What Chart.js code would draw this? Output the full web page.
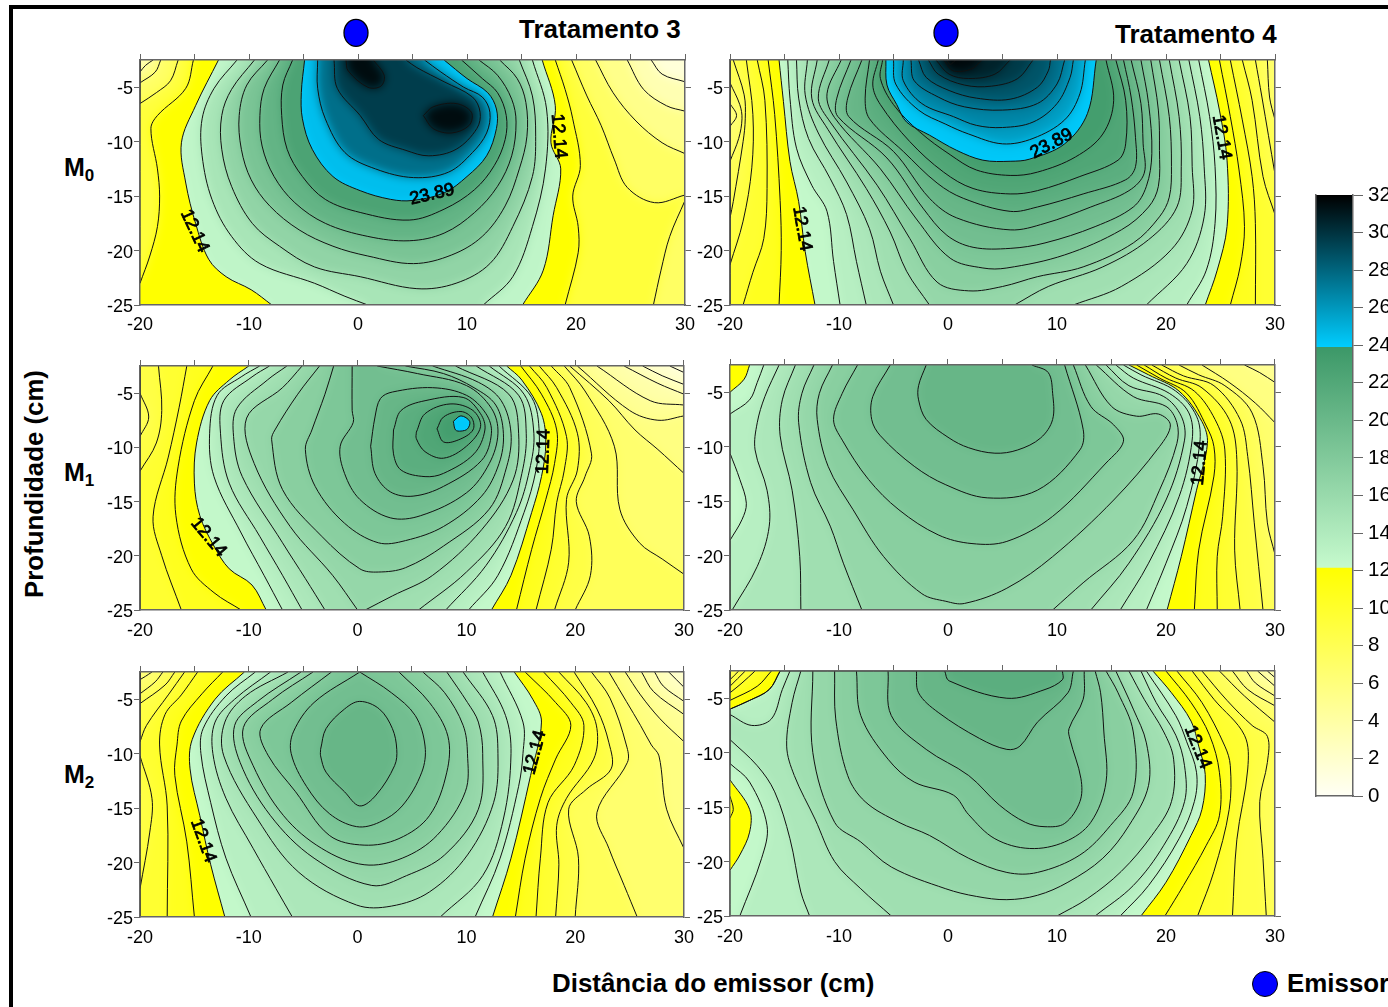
<!DOCTYPE html>
<html lang="pt">
<head>
<meta charset="utf-8">
<title>Tratamentos 3 e 4</title>
<script src="https://cdn.jsdelivr.net/npm/chart.js@4"></script>
<style>
html, body { margin: 0; padding: 0; background: #fff; overflow: hidden; width: 1388px; height: 1007px; }
body { position: relative; font-family: "Liberation Sans", Arial, sans-serif; color: #000; }
canvas { position: absolute; }
.txt { position: absolute; font-weight: bold; white-space: nowrap; line-height: 1; }
.txt sub { font-size: 0.68em; vertical-align: -0.28em; line-height: 0; }
#frame { position: absolute; left: 9px; top: 5px; right: -10px; bottom: -10px; border-top: 4px solid #000; border-left: 4px solid #000; }
#dot { position: absolute; left: 1252px; top: 971px; width: 26px; height: 26px; border-radius: 50%; background: #0000ff; border: 1.5px solid #000; box-sizing: border-box; }
</style>
</head>
<body>
<div id="frame"></div>
<div class="txt" style="left:519px;top:16px;font-size:26px">Tratamento 3</div>
<div class="txt" style="left:1115px;top:21px;font-size:26px">Tratamento 4</div>
<div class="txt" style="left:64px;top:155px;font-size:25px">M<sub>0</sub></div>
<div class="txt" style="left:64px;top:460px;font-size:25px">M<sub>1</sub></div>
<div class="txt" style="left:64px;top:762px;font-size:25px">M<sub>2</sub></div>
<div class="txt" style="left:35px;top:484px;font-size:25.8px;transform:translate(-50%,-50%) rotate(-90deg)">Profundidade (cm)</div>
<div class="txt" style="left:552px;top:971px;font-size:25.9px">Distância do emissor (cm)</div>
<div id="dot"></div>
<div class="txt" style="left:1287px;top:971px;font-size:25.9px">Emissor</div>

<script>
// Axis limits and ticks
const xLimits = [-20, 30];
const yLimits = [-25, -2.5];
const xStep = 10;
const xTopStep = 5;
const yStep = 5;
const scaleTicksStep = 2;
const scaleLimits = [0, 32];
const scaleBreaks = [0, 12.14, 23.89, 32];
const emitterX = [0];
const emitterY = [0];

// Contours: [level, [x, y, x, y, ...]], painted in this order
const t3m0 = [
  [10.18, [-15.1,-2.5,-15.8,-5.1,-18.4,-7.6,-19,-8.8,-18.4,-12.5,-18.2,-15,-18.4,-17.8,-19.1,-20.5,-20,-23,-20,-2.5]],
  [8.22, [-16.5,-2.5,-17.2,-4.4,-18.5,-5.5,-20,-6.5,-20,-2.5]],
  [6.26, [-18.1,-2.5,-18.6,-3.6,-20,-4.6,-20,-2.5]],
  [4.31, [-18.8,-2.5,-19.5,-3,-20,-3.6,-20,-2.5]],
  [10.18, [18.1,-2.5,19,-5.2,19.7,-7.9,20.4,-12.2,19.7,-15,20.2,-17.8,20.2,-20.2,19,-25,30,-25,30,-2.5]],
  [8.22, [19.6,-2.5,21,-5.8,22.3,-8.5,23.5,-11.6,24.7,-14.2,27.2,-15.6,30,-14.9,30,-2.5]],
  [8.22, [30,-15.4,28.6,-18.7,27.8,-21.8,27.1,-25,30,-25]],
  [6.26, [21.8,-2.5,23.4,-5.5,25.5,-8.1,27.9,-10.1,30,-11.1,30,-2.5]],
  [4.31, [24.7,-2.5,26.2,-5.2,28.3,-6.7,30,-7.2,30,-2.5]],
  [2.35, [26.9,-2.5,27.9,-3.8,30,-4.5,30,-2.5]],
  [12.14, [-12.8,-2.5,-14.9,-6.7,-16.2,-10.1,-15.8,-13.8,-14.9,-17.5,-13.7,-20.8,-12.1,-22.4,-9.8,-23.6,-7.9,-25,15.1,-25,17,-21.8,17.9,-16.8,18.6,-12.5,17.7,-10.1,18.1,-6.7,16.9,-2.5]],
  [14.10, [-11.1,-2.5,-13.2,-5.1,-14.3,-7.9,-14.3,-11.3,-13.4,-15.3,-11.6,-18.7,-9,-21.2,-4,-23,-1.2,-24.2,0.9,-25,11.5,-25,14.2,-22.4,16,-17.8,17.2,-12.5,17.3,-7,16,-2.5]],
  [16.06, [-9.5,-2.5,-11.6,-5.2,-12.5,-7.6,-12.5,-10.7,-11.6,-14.1,-9.7,-17.5,-7.2,-19.6,-4,-21.5,0.2,-22.4,5.4,-23.5,9,-23,12.1,-21.2,14.2,-17.8,16,-13.2,16.3,-9.5,16,-5.8,14.8,-2.5]],
  [18.02, [-8.3,-2.5,-10.2,-4.8,-10.9,-7.6,-10.7,-10.7,-9.8,-13.5,-8.1,-15.9,-5.4,-18.1,-2.3,-19.6,0.9,-20.5,5.1,-21.2,8.6,-20.4,11.4,-18.7,13.5,-15.9,14.8,-12.5,15.5,-9.5,15.4,-6.4,14.6,-4.2,13,-2.5]],
  [19.97, [-7.2,-2.5,-8.6,-5.1,-9,-7.6,-8.8,-10.4,-7.7,-13.2,-5.8,-15.6,-3,-17.5,0.9,-18.7,4.7,-19.1,7.9,-18.4,10.7,-16.5,12.8,-14.1,14.1,-11.3,14.5,-8.2,14.1,-6.1,12.8,-3.9,11.1,-2.5]],
  [21.93, [-6,-2.5,-6.9,-4.8,-7,-7.6,-6.5,-10.7,-5.1,-13.2,-3,-15.3,0.2,-16.5,4.7,-17.2,7.9,-16.2,10.7,-14.4,12.5,-12.2,13.5,-9.8,13.6,-7.6,12.8,-5.5,11.4,-4.2,9.5,-2.5]],
  [23.89, [-4.9,-2.5,-5.2,-5.5,-5.1,-7.9,-4.2,-10.7,-2.3,-13.2,0.2,-14.5,3,-15.3,5,-15.4,7.9,-14.7,10,-13.2,11.8,-11.3,12.7,-8.8,12.7,-7,11.9,-5.5,10,-4.2,7.9,-2.5]],
  [25.85, [-3.7,-2.5,-3.7,-5.1,-3,-7.9,-1.2,-11,1.6,-12.5,5.1,-13.3,8.3,-12.8,10.5,-11,11.8,-9.2,12.1,-7.3,11.4,-5.9,9.7,-5,7.6,-3.6,6.1,-2.5]],
  [27.81, [-2.2,-2.5,-1.9,-5.1,0.2,-7.6,1.9,-9.8,4.4,-10.8,6.5,-11.3,9,-10.7,10.9,-8.8,11.2,-7.3,10.5,-5.9,7.9,-4.5,5.4,-3.2,4.4,-2.5]],
  [29.77, [-1.1,-2.5,-0.9,-3.5,0.9,-5,2.1,-4.9,2.4,-3.9,1.4,-2.5]],
  [29.77, [6,-7.6,6.9,-6.8,9,-6.5,10.4,-7.3,10.2,-8.5,8.6,-9.2,6.9,-8.8]]
];

const t4m0 = [
  [11.16, [-16.5,-2.5,-15.9,-7.5,-15.4,-15.4,-15.3,-20,-15.5,-25,-20,-25,-20,-2.5]],
  [10.18, [-17.5,-2.5,-16.8,-6.2,-16.6,-14.3,-16.9,-18.9,-17.9,-22,-18.8,-25,-20,-25,-20,-2.5]],
  [9.2, [-18.5,-2.5,-17.9,-7.5,-18,-12.4,-18.8,-17.3,-20,-21.3,-20,-2.5]],
  [8.22, [-19.7,-2.5,-18.7,-5.7,-18.6,-7.9,-18.8,-10,-19.7,-15.5,-20,-17,-20,-2.5]],
  [7.24, [-20,-4.6,-19.1,-6.6,-18.9,-7.9,-19.2,-9.7,-20,-11.8]],
  [6.26, [-20,-6.5,-19.4,-7.6,-20,-8.6]],
  [11.16, [24.9,-2.5,25.9,-7.7,26.7,-12.6,27.2,-17.8,26.8,-21.5,25.9,-25,30,-25,30,-2.5]],
  [10.18, [25.9,-2.5,27,-8,27.9,-13.2,28.2,-17.5,28.2,-25,30,-25,30,-2.5]],
  [9.2, [27,-2.5,27.9,-6.2,28.9,-13.2,30,-16.7,30,-2.5]],
  [8.22, [28.2,-2.5,28.8,-5.9,30,-13,30,-2.5]],
  [7.24, [29.3,-2.5,29.5,-5.9,30,-8,30,-2.5]],
  [12.14, [-15.5,-2.5,-15.1,-6.3,-14.5,-11.8,-13.7,-15.5,-13.1,-20.1,-12.2,-25,23.6,-25,24.7,-21.8,25.6,-17.8,25.6,-11.7,24.9,-7.1,23.9,-2.5]],
  [13.12, [-14.7,-2.5,-14.5,-6,-13.9,-10.6,-12.5,-14,-11.1,-16.4,-10.5,-21,-9.9,-25,21.9,-25,23.7,-21.8,24.5,-17.5,24.5,-12.3,24,-7.7,23,-2.5]],
  [14.10, [-13.9,-2.5,-13.7,-6,-12.8,-9.7,-10.8,-13.4,-9.3,-16.7,-8.4,-21,-7.5,-25,18.2,-25,21.9,-21.2,23.5,-16.9,23.5,-12.3,23.1,-7.7,22.1,-2.5]],
  [15.08, [-12.9,-2.5,-13.1,-5.7,-11.9,-9.2,-9.3,-13.7,-7.2,-18,-6.2,-21.9,-5,-25,11.5,-25,15.9,-23.3,20.5,-19.9,22.4,-16.3,22.4,-12.3,22.2,-7.7,21.2,-2.5]],
  [16.06, [-12,-2.5,-12.5,-6,-11,-8.9,-7.5,-14.3,-5.3,-18.3,-3.8,-21.9,-1.7,-25,6.1,-25,9.2,-23.3,14.2,-21.5,18.4,-19,21,-16,21.4,-12.3,21.2,-7.7,20.3,-2.5]],
  [17.04, [-10.9,-2.5,-11.9,-6,-10.8,-8.2,-6.5,-14,-3.5,-18.9,-1,-22.9,1.9,-23.7,5,-23.3,8.2,-22.4,12.4,-21.5,17,-19.3,19.4,-16.9,20.3,-15.1,20.5,-12.3,20.3,-7.7,19.4,-2.5]],
  [18.02, [-9.8,-2.5,-11.1,-5.6,-10.4,-7.8,-6.2,-12.5,-2.9,-17.1,0.2,-20.7,3.2,-21.6,5.4,-21.6,10.7,-20.4,15.9,-18.1,18.4,-16,19.3,-14.1,19.4,-10.8,19.3,-7.1,18.6,-2.5]],
  [19, [-8.9,-2.5,-10.2,-6,-10.1,-7.7,-5.6,-11.5,-2.3,-16.1,-0.1,-18.6,2.3,-19.7,5.7,-19.8,8.9,-19.3,13.5,-17.8,17,-16,18.2,-14.1,18.7,-11.1,18.4,-6.5,17.7,-2.5]],
  [19.97, [-7.9,-2.5,-9.2,-6,-9.1,-7.7,-5,-10.9,-1.7,-15.2,0.8,-17,5.7,-18.1,8.9,-17.5,13.1,-16,16.6,-14.5,18,-12.9,17.9,-10.2,17.7,-6.5,16.8,-2.5]],
  [20.95, [-7.2,-2.5,-7.6,-6,-7.2,-7.9,-4.1,-10.9,-1,-13.8,1.4,-15.2,5.7,-16.4,8.2,-16,12.4,-14.8,16.3,-13.5,17.2,-12.3,17.2,-9.6,16.8,-5.9,16.1,-2.5]],
  [21.93, [-6.4,-2.5,-6.9,-4.8,-6.2,-6.6,-3.5,-10,-0.4,-12.8,2.3,-14.3,5.7,-14.8,8.2,-14.5,12.1,-13.2,15.6,-11.7,16.3,-10.2,16.3,-6.2,15.4,-2.5]],
  [22.91, [-6,-2.5,-6.2,-4.2,-5,-6.6,-2.6,-9.1,0.2,-11.2,2.6,-12.6,5.7,-13.1,8.2,-12.8,11.7,-11.4,14.2,-9.3,15.2,-6.2,14.5,-2.5]],
  [23.89, [-5.7,-2.5,-5.6,-4.8,-4.7,-6.6,-3.8,-8.2,-1.7,-9.4,0.8,-10.8,3.2,-11.7,5.7,-11.8,7.5,-11.6,10.7,-10.2,12.8,-7.4,13.6,-2.5]],
  [24.87, [-5,-2.5,-4.8,-4.7,-2.7,-7.1,-0.2,-8.4,1.9,-9.3,5,-10.2,7.8,-9.7,10.7,-8,12.1,-5.6,12.6,-2.5]],
  [25.85, [-4.1,-2.5,-4.1,-4.4,-2.4,-6.5,0.5,-7.7,2.6,-8.5,5,-8.7,7.8,-8.2,10,-6.5,11.2,-4.1,11.5,-2.5]],
  [26.83, [-3.4,-2.5,-3.1,-4.4,-0.9,-5.9,1.5,-6.8,5,-7.1,8.2,-6.5,10,-4.7,10.7,-2.5]],
  [27.81, [-2.7,-2.5,-2,-4.1,0.1,-5.3,2.6,-6,5.7,-6.1,8.2,-5,9.2,-3.5,9.4,-2.5]],
  [28.79, [-1.8,-2.5,-0.9,-3.8,1.5,-4.8,4,-4.9,6.4,-4.2,7.8,-2.5]],
  [29.77, [-1.1,-2.5,0.1,-3.8,1.9,-4.2,4.3,-3.8,5.7,-2.5]],
  [30.75, [-0.4,-2.5,0.5,-3.5,2.2,-3.3,3.1,-2.5]],
  [31.73, [-0.1,-2.5,0.2,-2.9,0.7,-2.5]]
];

const t3m1 = [
  [11.16, [-13.3,-2.5,-15,-5.7,-16.5,-11.8,-16.7,-16.3,-15.3,-21.2,-13.2,-23.4,-10.7,-25,-20,-25,-20,-2.5]],
  [10.18, [-15.7,-2.5,-16.4,-6.3,-17.4,-10.9,-18.8,-16.4,-18,-20,-16.2,-25,-20,-25,-20,-2.5]],
  [9.2, [-18.3,-2.5,-18,-6.6,-18.5,-9.6,-20,-12.2,-20,-2.5]],
  [8.22, [-20,-5,-19.2,-7.2,-20,-9]],
  [11.16, [15,-2.5,16.9,-5.1,18.3,-8.4,18.1,-11.5,17.3,-14.8,16,-19.4,14.6,-25,30,-25,30,-2.5]],
  [10.18, [15.8,-2.5,17.4,-4.5,19.2,-9,19,-12.1,18.3,-15.1,17.8,-19.4,16.4,-25,30,-25,30,-2.5]],
  [9.2, [16.7,-2.5,18.3,-4.5,20.2,-8.7,20.2,-12.1,19.2,-14.8,19.4,-20.6,18.1,-25,30,-25,30,-2.5]],
  [8.22, [17.8,-2.5,19.5,-4.5,21.5,-10.6,20.9,-12.7,20.1,-15,21.3,-18.2,21.4,-21.8,20,-25,30,-25,30,-2.5]],
  [7.24, [19,-2.5,20.9,-4.8,23.6,-9.9,24.1,-15.7,25.9,-18.8,28,-20.3,30,-21.7,30,-2.5]],
  [6.26, [19.5,-2.5,23.1,-5.7,25.5,-8.4,27.6,-10.2,30,-12.4,30,-2.5]],
  [5.28, [20.2,-2.5,25,-6.6,27.6,-7.5,30,-7.1,30,-2.5]],
  [4.31, [22,-2.5,26.9,-5.7,30,-6.1,30,-2.5]],
  [3.33, [24.5,-2.5,27.6,-4.1,30,-5.1,30,-2.5]],
  [2.35, [26.2,-2.5,28,-3.4,30,-4.2,30,-2.5]],
  [1.37, [28.7,-2.5,30,-3.1,30,-2.5]],
  [12.14, [-10,-2.5,-11.8,-3.8,-13.6,-5.7,-14.8,-9.6,-15,-13.3,-14.5,-16.3,-13.2,-19.1,-11.8,-21.2,-9.7,-22.7,-8.4,-25,12.3,-25,14.1,-21.8,16,-16,16.9,-12.7,17.3,-9.6,16.9,-6.9,15.1,-3.8,13.7,-2.5]],
  [13.12, [-9,-2.5,-10.7,-3.5,-12.9,-5.2,-13.6,-8.7,-13.2,-12.7,-10.7,-17.9,-8.6,-21.8,-6.9,-25,10.2,-25,12.9,-21.8,15.3,-16,16.4,-12.1,16.7,-8.7,16,-5.4,13,-2.5]],
  [14.10, [-8.1,-2.5,-9.7,-3.5,-12.3,-5.7,-12.6,-8.7,-11.8,-13.3,-9,-18.2,-6.9,-21.8,-5.1,-25,8.1,-25,11.8,-20.9,14.6,-16,15.8,-12.1,16.2,-8.7,15.3,-5.1,12.1,-2.5]],
  [15.08, [-6.5,-2.5,-8.3,-3.8,-11.1,-6.4,-11.4,-9,-10.6,-12.7,-6.9,-18.8,-4.8,-22.1,-3,-25,5.6,-25,10,-21.5,13.6,-17.3,15.1,-12.4,15.5,-8.7,14.8,-5.2,10.9,-2.5]],
  [16.06, [-5.1,-2.5,-6.9,-4.5,-10.2,-7.3,-9.5,-11.5,-6.2,-17.3,-2.3,-21.8,0,-25,0.7,-25,3.2,-23.7,6.9,-21.8,11.4,-17.6,14.3,-13,14.8,-8.7,13.9,-5.1,9,-2.5]],
  [17.04, [-3.5,-2.5,-5.5,-5.1,-7.6,-8.4,-7.9,-9.3,-6.9,-13.9,-3.3,-18.2,0.2,-21.2,1.9,-21.5,4.4,-21.1,7.9,-19.1,12.1,-15.7,13.7,-11.8,14.1,-8.7,13.2,-5.7,11.1,-4,6.9,-2.5]],
  [18.02, [-2.2,-2.5,-3,-5.1,-4.2,-8.4,-4.8,-10.2,-3.9,-13.6,-1.2,-17,1.9,-18.8,4.4,-18.6,7.9,-17.3,11.4,-14.5,13,-11.5,13.4,-8.7,12.7,-6.1,10.7,-4.5,7.9,-3.2,4.4,-2.5]],
  [19, [-0.5,-2.5,-0.5,-6.6,-0.4,-7.7,-1.6,-9.9,-1.2,-12.4,0.2,-14.8,3,-16.5,5.8,-16.3,10,-14.2,12.1,-11.5,12.9,-8.7,12.3,-6.4,10,-4.3,5.5,-3.2,1.8,-2.5]],
  [19.97, [1.2,-9.9,1.6,-7.2,2.1,-5.5,3.2,-4.9,6.9,-4.5,10,-5.2,11.8,-6.9,12.3,-8.7,11.4,-11.2,7.9,-13.6,5.1,-14.5,3,-14.1,1.6,-12.4]],
  [20.95, [3.3,-8.4,4,-6.6,6.2,-5.7,9.7,-5.4,11.3,-6.9,11.7,-8.4,10.7,-10.6,7.9,-12.4,6.2,-12.7,4,-12.1,3.3,-10.6]],
  [21.93, [5.4,-8.6,6.2,-6.9,8.5,-6,10.6,-6.6,11.3,-8.1,10,-9.9,7.9,-11,6.2,-10.4,5.4,-9.2]],
  [22.91, [7.3,-8.3,7.9,-7.2,9.5,-6.7,10.5,-7.3,10.6,-8.4,9.3,-9.3,7.9,-9.5]],
  [23.89, [8.8,-7.6,9.5,-7.1,10.3,-7.6,10.1,-8.3,9.5,-8.5,9,-8.4]]
];

const t4m1 = [
  [11.16, [17.3,-2.5,19.4,-3.7,21.9,-5.1,23.7,-8.1,24.4,-10,24.4,-12.7,23,-19.5,22.6,-25,30,-25,30,-2.5]],
  [10.18, [18,-2.5,20,-3.7,22.6,-4.9,24.5,-7.5,25.4,-10.3,25.2,-16.4,24.7,-20.1,24.7,-25,30,-25,30,-2.5]],
  [9.2, [18.7,-2.5,20.9,-3.7,23.3,-4.6,25.8,-7.5,26.5,-11.2,26.3,-19.5,26.8,-25,30,-25,30,-2.5]],
  [8.22, [19.6,-2.5,21.6,-3.5,24.4,-4.4,26.8,-7.5,27.5,-10.9,28.1,-17,28.9,-25,30,-25,30,-2.5]],
  [7.24, [21.2,-2.5,23,-3.4,25.4,-4.4,27.9,-6.9,28.9,-11.8,29.3,-17,30,-19.9,30,-2.5]],
  [6.26, [23.3,-2.5,25.8,-4.1,28.2,-6,30,-7.8,30,-2.5]],
  [5.28, [27.2,-2.5,28.6,-3.2,30,-4.1,30,-2.5]],
  [12.14, [-18.2,-2.5,-18.7,-3.8,-20,-5,-20,-25,20.1,-25,21.4,-20.1,22.8,-14,23.8,-9.7,23.3,-7.7,21.2,-4.9,18.4,-3.4,16.6,-2.5]],
  [13.12, [-16.9,-2.5,-17.5,-4.1,-18.2,-5.7,-20,-7,-20,-10.6,-19.1,-13,-18.5,-15.2,-18.9,-16.7,-20,-18.6,-20,-25,18.2,-25,20,-20.7,21.9,-15.5,23.1,-9.7,22.8,-7.2,20.9,-4.9,17.7,-3.4,16.1,-2.5]],
  [14.10, [-15.5,-2.5,-16.8,-5.4,-17.5,-7.8,-17.7,-10.3,-16.6,-14,-16.4,-17.3,-17.5,-21,-19.8,-25,15.8,-25,18.4,-20.7,21.2,-14.6,22.4,-9.4,22.1,-6.9,20.3,-5.1,17,-3.7,15.4,-2.5]],
  [15.08, [-14,-2.5,-15.2,-5.7,-15.4,-9,-14.3,-14,-13.6,-20.1,-13.5,-25,13.1,-25,16.6,-20.7,20,-14.9,21.7,-9.4,21.4,-7.2,19.8,-5.4,16.6,-4.4,14.5,-2.5]],
  [16.06, [-12.3,-2.5,-13.4,-5.1,-13.7,-7.8,-12.6,-13.3,-10.8,-17.3,-9.6,-20.7,-7.9,-25,9.6,-25,12.4,-22.5,17,-18.6,19.4,-14,21,-9.7,21,-7.8,20,-6.3,17,-5.4,13.6,-2.5]],
  [17.04, [-10.6,-2.5,-11.8,-5.1,-12,-7.5,-11,-11.8,-8.7,-15.8,-5.9,-20.1,-2.4,-23.5,-0.2,-24.2,1.5,-24.4,5.4,-23,9.6,-20.1,15.2,-14.9,19.4,-10,20.4,-8,19.3,-7,17.3,-7.2,15,-6.3,12.6,-2.5]],
  [18.02, [-8.3,-2.5,-9.7,-5.1,-10.5,-7.5,-9.7,-9.4,-7.3,-13,-4.5,-15.8,-0.9,-18.1,2.2,-18.9,5.4,-18.7,9.6,-16.4,14.5,-11.5,16.1,-9.5,15.2,-8,13.1,-6.3,11.5,-2.5]],
  [19, [-5.3,-2.5,-6.9,-5.4,-7,-7.5,-6.2,-9,-3.1,-11.8,-0.2,-13.5,3.6,-14.7,8.2,-14,12.1,-10.3,12.4,-8.4,10.7,-2.5]],
  [19.97, [-2,-2.5,-2.7,-4.4,-2.7,-5.7,-2,-7.5,0.1,-9.2,1.9,-10.1,4.3,-10.6,6.4,-10.3,8.5,-9.2,9.6,-7.5,9.6,-5.1,9.2,-3.2,7.7,-2.5]]
];

const t3m2 = [
  [11.16, [-12.4,-2.5,-14.3,-4.5,-16.2,-7,-16.6,-9.2,-16.8,-12,-15.7,-18.1,-15,-25,-20,-25,-20,-2.5]],
  [10.18, [-14.7,-2.5,-16.2,-4.6,-17.7,-6.4,-18.2,-9.2,-17.5,-14.8,-17.5,-25,-20,-25,-20,-2.5]],
  [9.2, [-15.9,-2.5,-17.4,-4.6,-19.4,-7.4,-20,-8.9,-20,-2.5]],
  [9.2, [-20,-10.2,-18.9,-14.1,-19.1,-17.2,-20,-22.4]],
  [8.22, [-16.8,-2.5,-17.7,-3.7,-20,-5.4,-20,-2.5]],
  [7.24, [-17.9,-2.5,-18.6,-3.4,-20,-4.5,-20,-2.5]],
  [6.26, [-18.9,-2.5,-19.5,-2.9,-20,-3.2,-20,-2.5]],
  [11.16, [15.4,-2.5,18.2,-5.3,19.6,-7.4,18.2,-10.5,16.8,-14.1,15.4,-19.6,14.5,-25,30,-25,30,-2.5]],
  [10.18, [17.1,-2.5,19.6,-5.3,20.8,-7.4,19.9,-11.1,17.5,-14.5,16.8,-19.6,16.4,-25,30,-25,30,-2.5]],
  [9.2, [18.5,-2.5,21,-5.3,22,-7.7,21.7,-10.5,19.2,-14.1,18.3,-16.6,18.5,-20.2,18.2,-25,30,-25,30,-2.5]],
  [8.22, [19.9,-2.5,22,-5.9,23.1,-9,23.3,-11.4,21,-13.3,19.4,-15.1,20.3,-19.6,20,-25,30,-25,30,-2.5]],
  [7.24, [21.5,-2.5,23.2,-4.9,24.7,-9.2,24.8,-10.8,22,-15.4,23.1,-18.7,24.5,-22.1,25.7,-25,30,-25,30,-2.5]],
  [6.26, [23.1,-2.5,24.7,-5.2,26,-7.4,27,-9.2,27.7,-10.2,28.4,-15.1,30,-18.7,30,-2.5]],
  [5.28, [24.6,-2.5,26,-4.6,27.8,-6.8,30,-8.9,30,-2.5]],
  [4.31, [26.1,-2.5,27.2,-4.3,30,-6.4,30,-2.5]],
  [3.33, [27.3,-2.5,28.1,-3.8,30,-5.2,30,-2.5]],
  [2.35, [28.6,-2.5,30,-3.9,30,-2.5]],
  [12.14, [-10.4,-2.5,-13.1,-5,-15.2,-8.7,-15.4,-11.4,-14.5,-15.7,-13.5,-20.2,-12.2,-25,12.4,-25,14.1,-19.6,15.9,-12,16.9,-7.1,16.1,-5,14.4,-2.5]],
  [13.12, [-9.4,-2.5,-12.1,-4.7,-14.2,-7.7,-14.4,-10,-13.5,-14.5,-12.1,-19.6,-9.8,-25,10.8,-25,13.1,-19.6,14.8,-13,15.2,-10,15.2,-7.1,13.1,-2.5]],
  [14.10, [-8,-2.5,-11.3,-5,-13.1,-7.1,-13.3,-10,-12.1,-14.1,-9.6,-18.7,-7.5,-22.4,-6,-25,7.6,-25,11.5,-21.2,13.4,-16,14.1,-10,13.6,-6.5,11.5,-2.5]],
  [15.08, [-6.4,-2.5,-10.3,-4.7,-12.2,-7.1,-12.3,-10.2,-9.2,-16,-5.4,-20.9,-0.1,-23.9,3.1,-24,6.6,-22.7,10.1,-19.3,12.5,-14.5,12.9,-10,12.4,-6.5,9.7,-2.5]],
  [16.06, [-5.2,-2.5,-9.2,-5.2,-11.3,-7.4,-10.8,-10.8,-8,-15.7,-4,-19.6,1.3,-22.1,4.5,-21.2,8,-19.3,11.1,-15.1,11.5,-10,11.1,-7.1,10.1,-5.3,8.2,-2.5]],
  [17.04, [-4.1,-2.5,-7.8,-5,-10.5,-7.6,-9.6,-11.1,-6.8,-15.7,-3.3,-18.7,0.6,-20.2,4.1,-19.6,7.3,-17.5,9.9,-13.5,10.1,-10,9.7,-7.4,8,-4.4,6,-2.5]],
  [18.02, [-2.4,-2.5,-6.1,-5.3,-8.9,-7.7,-8.2,-10.2,-5.7,-13.5,-2.6,-17.5,0.6,-18.4,3.8,-17.8,6.6,-15.7,8.2,-11.7,8.3,-8.4,6.6,-5.3,3.8,-2.5]],
  [19, [0.2,-2.5,-4,-5.3,-5.9,-8,-6.1,-10,-4.7,-13,-2.6,-15.5,-0.1,-16.7,2,-16.3,4.1,-14.8,5.9,-11.7,6.2,-9.3,5.3,-6.5,3.1,-4.4,0.2,-2.5]],
  [19.97, [-3.4,-9.6,-2.9,-7.7,-1.2,-5.9,0.2,-5.2,2,-5.9,3.2,-7.7,3.6,-9.6,3.4,-11.1,1.7,-13.8,0.2,-14.8,-1.2,-13.5,-2.9,-11.7,-3.4,-10.2]]
];

const t4m2 = [
  [11.16, [-16.2,-2.5,-17.5,-3.9,-20,-5.2,-20,-2.5]],
  [10.18, [-17.7,-2.5,-18.9,-3.6,-20,-4.5,-20,-2.5]],
  [9.2, [-18.6,-2.5,-20,-3.9,-20,-2.5]],
  [8.22, [-19.2,-2.5,-20,-3.3,-20,-2.5]],
  [11.16, [20,-2.5,22.3,-5.4,24,-8.4,24.9,-11.8,24.9,-15.8,23.7,-18.5,21.6,-22.2,19.9,-25,30,-25,30,-2.5]],
  [10.18, [21,-2.5,23.3,-5.4,25.4,-9.4,25.9,-11.2,25.8,-15.2,24.4,-20.9,22.9,-25,30,-25,30,-2.5]],
  [9.2, [22.4,-2.5,24.4,-5.1,27.2,-8.4,27.5,-11.5,26.5,-18,26.1,-25,30,-25,30,-2.5]],
  [8.22, [23.3,-2.5,25.6,-5.2,27.9,-7.5,29.3,-8.5,29.3,-10.9,28.6,-14.5,28.9,-19.7,29.2,-25,30,-25,30,-2.5]],
  [7.24, [24.9,-2.5,27.2,-4.8,30,-7.2,30,-2.5]],
  [6.26, [26.1,-2.5,27.5,-4.2,30,-5.7,30,-2.5]],
  [5.28, [27.4,-2.5,28.2,-3.6,30,-4.8,30,-2.5]],
  [4.31, [28.4,-2.5,30,-3.9,30,-2.5]],
  [3.33, [29.3,-2.5,30,-3.1,30,-2.5]],
  [11.16, [-20,-14,-19.7,-15.2,-20,-16]],
  [12.14, [-15.4,-2.5,-16.4,-4.2,-18.2,-5.2,-20,-6,-20,-12.5,-18.2,-15.2,-18.2,-17.3,-19.1,-19.4,-20,-20.8,-20,-25,17.7,-25,20,-21.9,22.3,-17.6,23.3,-15.2,23.6,-12,23,-9.4,22.3,-7.1,20.5,-4.5,18.8,-2.5]],
  [13.12, [-20,-6,-20,-11,-18.2,-12.7,-16.6,-16.7,-17.1,-19.7,-19.1,-25,15.8,-25,18.4,-22.2,21.2,-17.9,22.6,-14.5,22.8,-11.8,21.9,-9,20.9,-6.6,18.2,-2.5,-15.4,-2.5,-16.4,-4.2,-18.2,-5.2,-20,-6]],
  [14.10, [-14.5,-2.5,-15.2,-4.2,-16.2,-6.9,-18,-7.5,-20,-6.5,-20,-8.8,-17.5,-11.2,-15.9,-13.6,-14.5,-17.9,-13.5,-22.8,-12.7,-25,13.5,-25,17,-22.2,19.8,-18.5,21.7,-14.5,21.7,-11.2,20.9,-8.4,19.1,-5.4,17.7,-2.5]],
  [15.08, [-13.5,-2.5,-14.3,-5.4,-14.8,-9.4,-14.1,-12.1,-12.2,-16.1,-10.4,-20,-8,-22.5,-5.2,-25,10,-25,12.8,-23.4,15.9,-20.9,18.7,-17.6,20.5,-14.5,20.7,-10.6,19.8,-8.1,18,-5.1,16.6,-2.5]],
  [16.06, [-12.4,-2.5,-12.4,-10,-10.4,-16.4,-8,-18.2,-5.2,-20.5,-0.2,-22.5,2.6,-23.2,5.4,-23.5,8.2,-23.1,11,-21.9,14.2,-19.7,16.6,-16.7,18.4,-13,18.2,-9.1,17,-6,15.4,-2.5]],
  [17.04, [-10.4,-2.5,-10.3,-6.9,-9.2,-12.1,-7.6,-14.5,-4.5,-16.4,-1.7,-17.6,1.9,-19.7,5.4,-21,8.2,-21,12.1,-19.4,14.9,-16.7,17,-13.6,17,-8.1,15.6,-4.5,14.5,-2.5]],
  [18.02, [-8.4,-2.5,-8,-6.6,-5.5,-10.6,-3.1,-12.7,0.5,-13.9,1.9,-15.7,4.3,-17.9,7.5,-18.8,10.7,-18.2,13.1,-16.4,14.5,-12.7,14.3,-8.1,14,-4.5,13.5,-2.5]],
  [19, [-5.5,-2.5,-5.2,-6.6,-2,-9.7,1.9,-12.1,4.7,-14.8,7.1,-16.4,8.9,-16.8,10.7,-16.5,12.1,-14.5,12.2,-12.4,11.2,-8.8,11.1,-7.8,12.4,-5.1,12.5,-2.5]],
  [19.97, [-2.9,-2.5,-2.7,-4.5,-0.9,-6.3,2.9,-8.7,5.4,-9.7,6.6,-9.4,8.2,-7.2,11,-4.5,11.5,-2.5]],
  [20.95, [-0.3,-2.5,0.1,-3.4,5.4,-5,8.9,-4.2,10.5,-3.3,10.5,-2.5]]
];

// Line labels: [text, x, y, rotation in degrees]
const t3m0Labels = [['12.14',-15,-18.2,65],['12.14',18.4,-9.5,85],['23.89',6.8,-14.85,-13]];
const t4m0Labels = [['12.14',-13.4,-18,80],['12.14',25.1,-9.6,80],['23.89',9.5,-10.2,-28]];
const t3m1Labels = [['12.14',-13.7,-18.3,50],['12.14',17.1,-10.4,-88]];
const t4m1Labels = [['12.14',23.1,-11.5,-85]];
const t3m2Labels = [['12.14',-14.2,-18,70],['12.14',16.3,-9.9,-75]];
const t4m2Labels = [['12.14',22.9,-9.5,68]];

// Colour ramps: value breaks with rgb at both ends of each piece
const ramps = [
  [0, 12.14, [255,255,245], [255,255,0]],
  [12.14, 23.89, [198,250,205], [60,152,104]],
  [23.89, 32, [0,205,255], [0,0,0]]
];

function colorAt(v) {
  const r = ramps.find(p => v < p[1]) || ramps[2];
  const t = Math.max(0, Math.min(1, (v - r[0]) / (r[1] - r[0])));
  const c = r[2].map((a, i) => Math.round(a + (r[3][i] - a) * t));
  return `rgb(${c[0]},${c[1]},${c[2]})`;
}

function bandColor(level, step) {
  if (level < 12.14) return colorAt(level - step / 2);
  if (level <= 23.89) return colorAt(level + step * 0.3);
  return colorAt(level + step * 0.9);
}

function onEdge(x, y) {
  return x === xLimits[0] || x === xLimits[1] || y === yLimits[0] || y === yLimits[1];
}

// Points on the plot edge are doubled so the curve keeps a sharp corner there
function toPoints(flat) {
  const pts = [];
  for (let i = 0; i < flat.length; i += 2) {
    const p = { x: flat[i], y: flat[i + 1] };
    pts.push(p);
    if (onEdge(p.x, p.y)) pts.push({ x: p.x, y: p.y });
  }
  if (!onEdge(flat[0], flat[1])) pts.push({ x: flat[0], y: flat[1] });
  return pts;
}

function buildDatasets(list, step) {
  // Chart.js paints the first dataset last, so turn the list around
  return list.slice().reverse().map(([level, flat]) => ({
    data: toPoints(flat),
    level,
    band: bandColor(level, step),
    showLine: true,
    fill: false,
    borderColor: '#111',
    borderWidth: 1,
    tension: 0.35,
    pointRadius: 0,
    pointHoverRadius: 0,
    clip: 0
  }));
}

// The three colour ranges each get a soft layer; the 12.14 and 23.89 lines stay hard edges
const fillGroups = [
  { test: l => l < 12.14, base: 12.13 },
  { test: l => l >= 12.14 && l < 23.89, base: 12.14, edge: 12.14 },
  { test: l => l >= 23.89, base: 23.89, edge: 23.89 }
];

const softFill = {
  id: 'softFill',
  beforeDatasetsDraw(chart) {
    const { ctx, chartArea: area } = chart;
    const metas = chart.getSortedVisibleDatasetMetas().slice().reverse();
    const pad = 16, w = Math.round(area.right - area.left), h = Math.round(area.bottom - area.top);
    fillGroups.forEach(group => {
      const layers = metas.filter(m => group.test(chart.data.datasets[m.index].level));
      if (!layers.length && group.edge) return;
      const off = document.createElement('canvas');
      off.width = w + pad * 2;
      off.height = h + pad * 2;
      const oc = off.getContext('2d');
      oc.fillStyle = colorAt(group.base);
      oc.fillRect(0, 0, off.width, off.height);
      oc.save();
      oc.translate(pad - area.left, pad - area.top);
      layers.forEach(m => {
        oc.fillStyle = chart.data.datasets[m.index].band;
        oc.beginPath();
        m.dataset.path(oc);
        oc.closePath();
        oc.fill();
      });
      oc.restore();
      // stretch the edge rows outwards so the blur does not fade at the plot border
      oc.drawImage(off, pad, pad, w, 1, pad, 0, w, pad);
      oc.drawImage(off, pad, pad + h - 1, w, 1, pad, pad + h, w, pad);
      oc.drawImage(off, pad, 0, 1, off.height, 0, 0, pad, off.height);
      oc.drawImage(off, pad + w - 1, 0, 1, off.height, pad + w, 0, pad, off.height);

      ctx.save();
      ctx.beginPath();
      ctx.rect(area.left, area.top, area.right - area.left, area.bottom - area.top);
      ctx.clip();
      if (group.edge) {
        ctx.beginPath();
        layers.filter(m => chart.data.datasets[m.index].level === group.edge).forEach(m => {
          m.dataset.path(ctx);
          ctx.closePath();
        });
        ctx.clip();
      }
      ctx.filter = 'blur(5px)';
      ctx.drawImage(off, area.left - pad, area.top - pad);
      ctx.restore();
    });
  }
};

// Draws the labels on the lines and the emitter above the top row
const panelDecor = {
  id: 'panelDecor',
  afterDatasetsDraw(chart, args, opts) {
    const { ctx, scales } = chart;
    ctx.save();
    ctx.font = '18px "Liberation Sans"';
    ctx.fillStyle = '#000';
    ctx.strokeStyle = '#000';
    ctx.lineWidth = 0.8;
    ctx.textAlign = 'center';
    ctx.textBaseline = 'middle';
    opts.labels.forEach(([text, x, y, rot]) => {
      ctx.save();
      ctx.translate(scales.x.getPixelForValue(x), scales.y.getPixelForValue(y));
      ctx.rotate(rot * Math.PI / 180);
      ctx.fillText(text, 0, 0);
      ctx.strokeText(text, 0, 0);
      ctx.restore();
    });
    if (opts.emitter) {
      ctx.beginPath();
      ctx.ellipse(scales.x.getPixelForValue(emitterX[0]) - 2, scales.y.getPixelForValue(emitterY[0]), 12, 13.5, 0, 0, Math.PI * 2);
      ctx.fillStyle = '#0000ff';
      ctx.fill();
      ctx.lineWidth = 1.3;
      ctx.stroke();
    }
    ctx.restore();
  }
};

const panels = [
  { data: t3m0, step: 1.96, labels: t3m0Labels, left: 140, top: 60, w: 545, h: 245, tickPad: 9, emitter: true },
  { data: t4m0, step: 0.98, labels: t4m0Labels, left: 730, top: 60, w: 545, h: 245, tickPad: 9, emitter: true },
  { data: t3m1, step: 0.98, labels: t3m1Labels, left: 140, top: 366, w: 544, h: 244, tickPad: 10 },
  { data: t4m1, step: 0.98, labels: t4m1Labels, left: 730, top: 365, w: 545, h: 245, tickPad: 10 },
  { data: t3m2, step: 0.98, labels: t3m2Labels, left: 140, top: 672, w: 544, h: 245, tickPad: 10 },
  { data: t4m2, step: 0.98, labels: t4m2Labels, left: 730, top: 671, w: 545, h: 245, tickPad: 10 }
];

const axisGray = '#666';
const tickFont = { family: 'Liberation Sans', size: 18 };

function addCanvas(left, top, width, height) {
  const canvas = document.createElement('canvas');
  canvas.width = width;
  canvas.height = height;
  canvas.style.left = left + 'px';
  canvas.style.top = top + 'px';
  canvas.style.width = width + 'px';
  canvas.style.height = height + 'px';
  document.body.appendChild(canvas);
  return canvas;
}

function drawPanel(p) {
  const padLeft = 60, padTop = 50, padRight = 20, padBottom = 35;
  const canvas = addCanvas(p.left - padLeft, p.top - padTop, p.w + padLeft + padRight, p.h + padTop + padBottom);
  const border = { color: axisGray, width: 1.5, z: 1 };
  new Chart(canvas, {
    type: 'scatter',
    data: { datasets: buildDatasets(p.data, p.step) },
    options: {
      responsive: false,
      animation: false,
      events: [],
      layout: { autoPadding: false, padding: { top: padTop, right: padRight } },
      plugins: {
        legend: { display: false },
        tooltip: { enabled: false },
        panelDecor: { labels: p.labels, emitter: !!p.emitter }
      },
      scales: {
        x: {
          type: 'linear', position: 'bottom', min: xLimits[0], max: xLimits[1],
          border, grid: { display: false, drawTicks: false },
          ticks: { stepSize: xStep, color: '#000', font: tickFont, padding: p.tickPad, maxRotation: 0, autoSkip: false },
          afterFit: s => { s.height = padBottom; }
        },
        xTop: {
          type: 'linear', position: 'top', min: xLimits[0], max: xLimits[1],
          border, grid: { drawOnChartArea: false, tickLength: 6, tickColor: axisGray, tickWidth: 1 },
          ticks: { stepSize: xTopStep, display: false },
          afterFit: s => { s.height = 0; }
        },
        y: {
          type: 'linear', position: 'left', min: yLimits[0], max: yLimits[1],
          border, grid: { drawOnChartArea: false, tickLength: 6, tickColor: axisGray, tickWidth: 1 },
          ticks: { stepSize: yStep, includeBounds: false, color: '#000', font: tickFont, padding: 1, labelOffset: 2, autoSkip: false },
          afterFit: s => { s.width = padLeft; }
        },
        yRight: {
          type: 'linear', position: 'right', min: yLimits[0], max: yLimits[1],
          border, grid: { drawOnChartArea: false, tickLength: 6, tickColor: axisGray, tickWidth: 1 },
          ticks: { stepSize: yStep, includeBounds: false, display: false },
          afterFit: s => { s.width = 0; }
        }
      }
    },
    plugins: [softFill, panelDecor]
  });
}

function drawScaleBar() {
  const canvas = addCanvas(1296, 185, 117, 621);
  const pieces = ramps.map((r, i) => ({
    data: [[scaleBreaks[i], scaleBreaks[i + 1]]],
    grouped: false,
    barPercentage: 1,
    categoryPercentage: 1,
    backgroundColor(ctx) {
      const y = ctx.chart.scales.y;
      const y0 = y ? y.getPixelForValue(r[0]) : NaN;
      const y1 = y ? y.getPixelForValue(r[1]) : NaN;
      // the scale has no pixels yet on the first pass through the options
      if (!isFinite(y0) || !isFinite(y1)) return `rgb(${r[3].join(',')})`;
      const g = ctx.chart.ctx.createLinearGradient(0, y0, 0, y1);
      g.addColorStop(0, `rgb(${r[2].join(',')})`);
      g.addColorStop(1, `rgb(${r[3].join(',')})`);
      return g;
    }
  }));
  const border = { color: axisGray, width: 1.5, z: 1 };
  new Chart(canvas, {
    type: 'bar',
    data: { labels: [''], datasets: pieces },
    options: {
      responsive: false,
      animation: false,
      events: [],
      layout: { autoPadding: false, padding: { left: 20, top: 10, bottom: 10 } },
      plugins: { legend: { display: false }, tooltip: { enabled: false } },
      scales: {
        x: { border, grid: { display: false, drawTicks: false }, ticks: { display: false }, afterFit: s => { s.height = 0; } },
        yLeft: {
          position: 'left', min: scaleLimits[0], max: scaleLimits[1],
          border, grid: { display: false }, ticks: { display: false },
          afterFit: s => { s.width = 0; }
        },
        y: {
          position: 'right', min: scaleLimits[0], max: scaleLimits[1],
          border, grid: { drawOnChartArea: false, tickLength: 10, tickColor: axisGray, tickWidth: 1 },
          ticks: { stepSize: scaleTicksStep, color: '#000', font: { family: 'Liberation Sans', size: 20.5 }, padding: 5, autoSkip: false },
          afterFit: s => { s.width = 60; s.paddingTop = 0; s.paddingBottom = 0; }
        }
      }
    }
  });
}

panels.forEach(drawPanel);
drawScaleBar();
</script>
</body>
</html>
